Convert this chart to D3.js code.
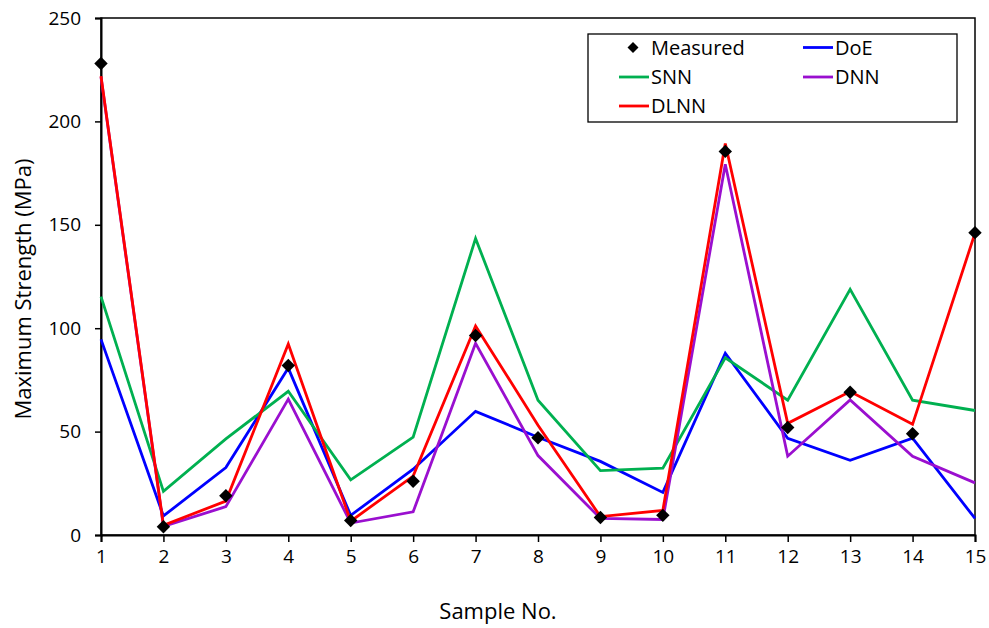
<!DOCTYPE html>
<html><head><meta charset="utf-8">
<script src="https://cdn.jsdelivr.net/npm/d3@7"></script>
<style>body{margin:0;background:#fff}svg{display:block}text{font-family:"Open Sans",sans-serif;fill:#000}</style>
</head><body><svg id="c" width="989" height="628"></svg>
<script>
const samples = [1,2,3,4,5,6,7,8,9,10,11,12,13,14,15];
const yTicks = [0,50,100,150,200,250];
const measured = [228, 4, 19, 82, 7, 26, 96.5, 47, 8.5, 9.5, 185.5, 52, 69, 49, 146.2];
const doe  = [94.6, 9.2, 32.6, 80.7, 9.5, 31.8, 59.8, 47.3, 35.6, 20.6, 87.9, 46.8, 36.1, 46.8, 8];
const snn  = [115.3, 21.1, 46.5, 69.5, 26.7, 47.3, 143.4, 65.2, 31.1, 32.3, 85.7, 65.2, 118.8, 65.2, 60.2];
const dnn  = [221.5, 4.2, 13.7, 65.7, 5.8, 11.2, 92.7, 38.4, 8.0, 7.5, 179.3, 38.1, 65.3, 38.1, 25.2];
const dlnn = [221.9, 4.7, 16.4, 92.4, 6.7, 28.5, 101.1, 53.1, 8.9, 11.9, 189.3, 54, 69.4, 53.5, 146];
const seriesNames = ["DoE","SNN","DNN","DLNN"];
const seriesColors = ["#0000FF","#00B050","#9A0FCF","#FF0000"];

const svg = d3.select("#c");
const L=101, R=975, T=18, B=535;
const x = d3.scaleLinear().domain([1,15]).range([L,R]);
const y = d3.scaleLinear().domain([0,250]).range([B,T]);

// frame
svg.append("rect").attr("x",L).attr("y",T).attr("width",R-L).attr("height",B-T)
  .attr("fill","none").attr("stroke","#000").attr("stroke-width",1.5);

// axes
const yAxis = svg.append("g").attr("transform",`translate(${L},0)`)
  .call(d3.axisLeft(y).tickValues(yTicks).tickSize(6).tickPadding(14));
const xAxis = svg.append("g").attr("transform",`translate(0,${B})`)
  .call(d3.axisBottom(x).tickValues(samples).tickFormat(d3.format("d")).tickSize(7).tickPadding(8));
[yAxis,xAxis].forEach(a=>{
  a.select(".domain").attr("stroke","#000").attr("stroke-width",2);
  a.selectAll(".tick line").attr("stroke","#000").attr("stroke-width",1.5);
  a.selectAll(".tick text").style("font-size","19px").style("font-family","'Open Sans',sans-serif").attr("fill","#000");
});

// lines
const all = [doe,snn,dnn,dlnn];
const line = d3.line().x((d,i)=>x(samples[i])).y(d=>y(d));
all.forEach((s,k)=>{
  svg.append("path").datum(s).attr("d",line).attr("fill","none")
    .attr("stroke",seriesColors[k]).attr("stroke-width",2.8).attr("stroke-linejoin","miter");
});

// measured markers
const diamond = d3.symbol().type(d3.symbolSquare).size(90);
svg.append("g").selectAll("path").data(measured).join("path")
  .attr("d",diamond)
  .attr("transform",(d,i)=>`translate(${x(samples[i])},${y(d)}) rotate(45)`)
  .attr("fill","#000");

// axis titles
svg.append("text").attr("x",498).attr("y",619).attr("text-anchor","middle")
  .style("font-size","22px").text("Sample No.");
svg.append("text").attr("transform",`translate(31,289) rotate(-90)`).attr("text-anchor","middle")
  .style("font-size","22px").text("Maximum Strength (MPa)");

// legend
const lg = svg.append("g");
lg.append("rect").attr("x",588).attr("y",34).attr("width",369).attr("height",88)
  .attr("fill","#fff").attr("stroke","#000").attr("stroke-width",1.3);
const legendItems = [
  {name:"Measured", col:0, row:0, marker:true},
  {name:"DoE", col:1, row:0, color:seriesColors[0]},
  {name:"SNN", col:0, row:1, color:seriesColors[1]},
  {name:"DNN", col:1, row:1, color:seriesColors[2]},
  {name:"DLNN", col:0, row:2, color:seriesColors[3]}
];
const colX = [619, 803], rowY = [47.5, 77, 106];
legendItems.forEach(it=>{
  const x0 = colX[it.col], yy = rowY[it.row];
  if(it.marker){
    lg.append("path").attr("d",d3.symbol().type(d3.symbolSquare).size(60)())
      .attr("transform",`translate(${x0+14},${yy}) rotate(45)`).attr("fill","#000");
  } else {
    lg.append("line").attr("x1",x0).attr("x2",x0+30).attr("y1",yy).attr("y2",yy)
      .attr("stroke",it.color).attr("stroke-width",2.8);
  }
  lg.append("text").attr("x",x0+32).attr("y",yy).attr("dy","0.35em")
    .style("font-size","20px").text(it.name);
});
</script></body></html>
